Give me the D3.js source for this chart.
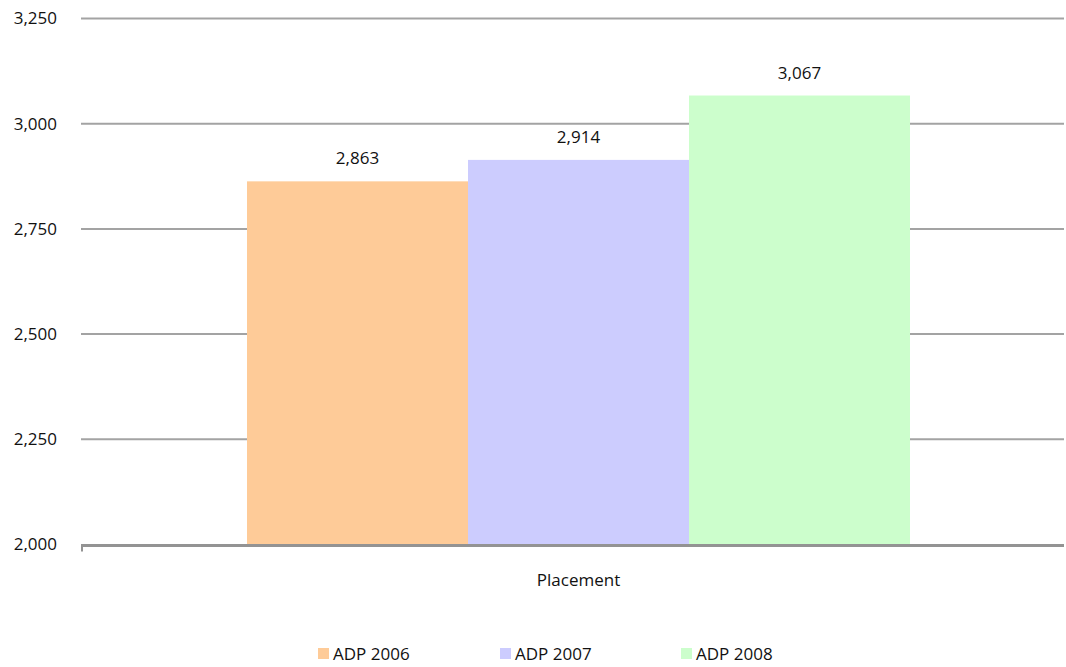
<!DOCTYPE html>
<html>
<head>
    <meta charset="utf-8">
    <title>ADP placement</title>
    <script src="https://cdn.jsdelivr.net/npm/d3@7"></script>
    <style>
        body { margin: 0; background: #fff; }
        text {
            font-family: "Open Sans", sans-serif;
            fill: #111;
        }
    </style>
</head>
<body>
<script>
    var categories = ['Placement'];
    var seriesNames = ['ADP 2006', 'ADP 2007', 'ADP 2008'];
    var seriesValues = [2863, 2914, 3067];
    var seriesColors = ['#fecb98', '#ccccfe', '#ccfecc'];
    var yTicks = [2000, 2250, 2500, 2750, 3000, 3250];

    var width = 1066, height = 667;
    var plotLeft = 81, plotRight = 1064, plotTop = 18.5, plotBottom = 544.5;

    var svg = d3.select('body').append('svg')
        .attr('width', width)
        .attr('height', height);

    var y = d3.scaleLinear()
        .domain([2000, 3250])
        .range([plotBottom, plotTop]);

    var x0 = d3.scaleBand()
        .domain(categories)
        .range([plotLeft, plotRight]);

    var x1 = d3.scaleBand()
        .domain(seriesNames)
        .range([247 - plotLeft, 910 - plotLeft]);

    var fmt = d3.format(',');

    // gridlines
    svg.append('g')
        .selectAll('line')
        .data(yTicks.slice(1)).enter()
        .append('line')
        .attr('x1', plotLeft)
        .attr('x2', plotRight)
        .attr('y1', function(d) { return y(d); })
        .attr('y2', function(d) { return y(d); })
        .style('stroke', '#a3a3a3')
        .style('stroke-width', 2);

    var yax = d3.axisLeft(y)
        .tickValues(yTicks)
        .tickSize(0)
        .tickPadding(24)
        .tickFormat(fmt);

    var ya = svg.append('g')
        .attr('transform', 'translate(' + plotLeft + ',0)')
        .call(yax);
    ya.select('.domain').remove();
    ya.selectAll('text')
        .style('font-size', '17px')
        .style('font-family', '"Open Sans", sans-serif')
        .attr('fill', '#111');

    // bars
    var groups = svg.append('g')
        .selectAll('g')
        .data(categories).enter()
        .append('g')
        .attr('transform', function(d) { return 'translate(' + x0(d) + ',0)'; });

    var barData = seriesNames.map(function(s, i) {
        return { name: s, value: seriesValues[i], color: seriesColors[i] };
    });

    groups.selectAll('rect')
        .data(barData)
        .enter().append('rect')
        .attr('x', function(d) { return x1(d.name); })
        .attr('width', x1.bandwidth())
        .attr('y', function(d) { return y(d.value); })
        .attr('height', function(d) { return plotBottom - y(d.value); })
        .style('fill', function(d) { return d.color; });

    groups.selectAll('text.lbl')
        .data(barData)
        .enter().append('text')
        .classed('lbl', true)
        .attr('x', function(d) { return x1(d.name) + x1.bandwidth() / 2; })
        .attr('y', function(d) { return y(d.value) - 17; })
        .attr('text-anchor', 'middle')
        .style('font-size', '17px')
        .text(function(d) { return fmt(d.value); });

    // x axis line
    svg.append('line')
        .attr('x1', plotLeft)
        .attr('x2', plotRight)
        .attr('y1', plotBottom + 1)
        .attr('y2', plotBottom + 1)
        .style('stroke', '#939393')
        .style('stroke-width', 3);
    svg.append('line')
        .attr('x1', plotLeft + 1)
        .attr('x2', plotLeft + 1)
        .attr('y1', plotBottom)
        .attr('y2', plotBottom + 7)
        .style('stroke', '#939393')
        .style('stroke-width', 2);

    svg.append('text')
        .attr('x', x0(categories[0]) + x0.bandwidth() / 2 + 6)
        .attr('y', 586)
        .attr('text-anchor', 'middle')
        .style('font-size', '17px')
        .text(categories[0]);

    // legend
    var legX = [318, 500, 681];
    var legend = svg.append('g')
        .selectAll('g')
        .data(seriesNames).enter()
        .append('g')
        .attr('transform', function(d, i) { return 'translate(' + legX[i] + ',648)'; });

    legend.append('rect')
        .attr('width', 11)
        .attr('height', 11)
        .style('fill', function(d, i) { return seriesColors[i]; });

    legend.append('text')
        .attr('x', 15)
        .attr('y', 12)
        .style('font-size', '17px')
        .text(function(d) { return d; });
</script>
</body>
</html>
